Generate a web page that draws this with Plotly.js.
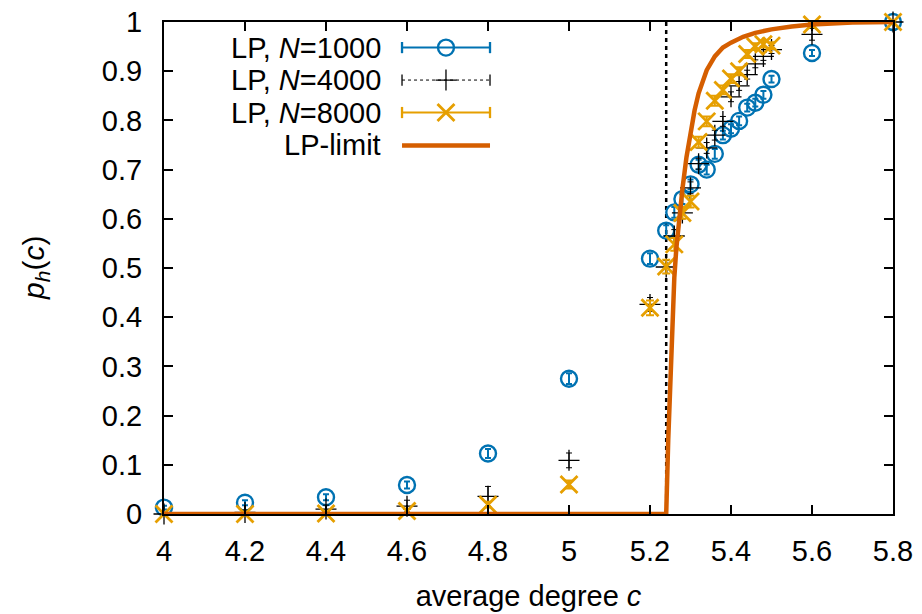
<!DOCTYPE html>
<html>
<head>
<meta charset="utf-8">
<script src="https://cdn.plot.ly/plotly-3.0.1.min.js"></script>
<style>html,body{margin:0;padding:0;background:#fff;}</style>
</head>
<body>
<div id="chart" style="width:922px;height:614px;"></div>
<script>
// ---- data ----
const c1000 = [4.0, 4.2, 4.4, 4.6, 4.8, 5.0, 5.2, 5.24, 5.26, 5.28, 5.30, 5.32, 5.34, 5.36, 5.38, 5.40, 5.42, 5.44, 5.46, 5.48, 5.50, 5.6, 5.8];
const p1000 = [0.013, 0.023, 0.034, 0.059, 0.123, 0.275, 0.519, 0.576, 0.613, 0.640, 0.670, 0.710, 0.700, 0.732, 0.770, 0.783, 0.799, 0.826, 0.836, 0.852, 0.884, 0.937, 1.0];
const e1000 = [0.004, 0.005, 0.006, 0.007, 0.009, 0.011, 0.011, 0.011, 0.011, 0.010, 0.010, 0.010, 0.010, 0.010, 0.009, 0.009, 0.009, 0.008, 0.008, 0.008, 0.007, 0.006, 0.0];

const c4000 = [4.0, 4.2, 4.4, 4.6, 4.8, 5.0, 5.2, 5.24, 5.26, 5.28, 5.30, 5.32, 5.34, 5.36, 5.38, 5.40, 5.42, 5.44, 5.46, 5.48, 5.50, 5.6, 5.8];
const p4000 = [0.0, 0.003, 0.010, 0.016, 0.036, 0.109, 0.426, 0.502, 0.565, 0.612, 0.663, 0.712, 0.744, 0.770, 0.798, 0.848, 0.870, 0.893, 0.915, 0.930, 0.944, 0.975, 1.0];
const e4000 = [0.002, 0.005, 0.008, 0.012, 0.020, 0.015, 0.014, 0.013, 0.013, 0.012, 0.012, 0.011, 0.011, 0.010, 0.010, 0.010, 0.009, 0.009, 0.008, 0.008, 0.008, 0.012, 0.0];

const c8000 = [4.0, 4.2, 4.4, 4.6, 4.8, 5.0, 5.2, 5.24, 5.26, 5.28, 5.30, 5.32, 5.34, 5.36, 5.38, 5.40, 5.42, 5.44, 5.46, 5.48, 5.50, 5.6, 5.8];
const p8000 = [0.0, 0.0, 0.001, 0.006, 0.019, 0.060, 0.419, 0.503, 0.548, 0.612, 0.635, 0.756, 0.798, 0.840, 0.862, 0.885, 0.900, 0.935, 0.950, 0.955, 0.952, 0.995, 1.0];
const e8000 = [0.001, 0.002, 0.003, 0.004, 0.006, 0.008, 0.015, 0.014, 0.013, 0.012, 0.012, 0.011, 0.010, 0.010, 0.009, 0.009, 0.008, 0.008, 0.007, 0.007, 0.007, 0.004, 0.0];

const cLimit = [4.0, 5.24, 5.245, 5.25, 5.255, 5.26, 5.265, 5.27, 5.275, 5.28, 5.29, 5.30, 5.31, 5.32, 5.33, 5.34, 5.36, 5.38, 5.40, 5.43, 5.46, 5.50, 5.55, 5.60, 5.70, 5.80];
const pLimit = [0.0, 0.0, 0.15, 0.28, 0.40, 0.48, 0.54, 0.585, 0.625, 0.66, 0.725, 0.78, 0.82, 0.855, 0.882, 0.902, 0.930, 0.948, 0.958, 0.970, 0.978, 0.985, 0.991, 0.995, 0.999, 1.0];

const threshold = 5.24;

const seriesNames = ["LP, <i>N</i>=1000", "LP, <i>N</i>=4000", "LP, <i>N</i>=8000", "LP-limit"];
const xTitle = "average degree <i>c</i>";
const yTitle = "<i>p</i><sub><i>h</i></sub>(<i>c</i>)";
const xTicks = [4, 4.2, 4.4, 4.6, 4.8, 5, 5.2, 5.4, 5.6, 5.8];
const yTicks = [0, 0.1, 0.2, 0.3, 0.4, 0.5, 0.6, 0.7, 0.8, 0.9, 1];

// ---- styles ----
const BLUE = "#0072B2", BLACK = "#000000", ORANGE = "#E69F00", RED = "#D55E00";
const FONT = "Liberation Sans, Arial, sans-serif";
const FS = 29;

const traces = [];
traces.push({x: [threshold, threshold], y: [0, 1], mode: "lines", showlegend: false, hoverinfo: "skip",
  line: {color: BLACK, width: 2.5, dash: "4px,4px"}});
traces.push({x: c1000, y: p1000, mode: "markers", name: seriesNames[0], showlegend: false, cliponaxis: false,
  marker: {symbol: "circle-open", size: 16, color: BLUE, line: {width: 2.4, color: BLUE}},
  error_y: {type: "data", array: e1000, color: BLUE, thickness: 2, width: 3}});
traces.push({x: c4000, y: p4000, mode: "markers", name: seriesNames[1], showlegend: false, cliponaxis: false,
  marker: {symbol: "cross-thin-open", size: 15, color: BLACK, line: {width: 1.3, color: BLACK}},
  error_y: {type: "data", array: e4000, color: BLACK, thickness: 1, width: 3}});
traces.push({x: c8000, y: p8000, mode: "markers", name: seriesNames[2], showlegend: false, cliponaxis: false,
  marker: {symbol: "x-thin-open", size: 17, color: ORANGE, line: {width: 2.8, color: ORANGE}},
  error_y: {type: "data", array: e8000, color: ORANGE, thickness: 2, width: 4}});
traces.push({x: cLimit, y: pLimit, mode: "lines", name: seriesNames[3], showlegend: false, cliponaxis: false,
  line: {color: RED, width: 4.5, shape: "linear"}});

// ---- custom legend (text left, sample right, as in the original) ----
const legX0 = 0.3265, legX1 = 0.4472, legXm = 0.3868, legTextX = 0.3004;
const legRows = [0.948, 0.882, 0.816, 0.749];
const legStyle = [
  {line: {color: BLUE, width: 2}, sym: "circle-open", size: 16, mlw: 2.4, mc: BLUE, cap: true},
  {line: {color: BLACK, width: 1, dash: "dot"}, sym: "cross-thin-open", size: 15, mlw: 1.3, mc: BLACK, cap: true},
  {line: {color: ORANGE, width: 2}, sym: "x-thin-open", size: 17, mlw: 2.8, mc: ORANGE, cap: true},
  {line: {color: RED, width: 4.5}, sym: null}
];
const annotations = [];
legStyle.forEach((s, i) => {
  const yy = legRows[i];
  traces.push({x: [legX0, legX1], y: [yy, yy], xaxis: "x2", yaxis: "y2", mode: "lines", showlegend: false,
    hoverinfo: "skip", line: s.line});
  if (s.cap) {
    traces.push({x: [legX0, legX1], y: [yy, yy], xaxis: "x2", yaxis: "y2", mode: "markers", showlegend: false,
      hoverinfo: "skip", marker: {symbol: "line-ns-open", size: 8, color: s.mc, line: {width: s.line.width + 0.3, color: s.mc}}});
  }
  if (s.sym) {
    traces.push({x: [legXm], y: [yy], xaxis: "x2", yaxis: "y2", mode: "markers", showlegend: false,
      hoverinfo: "skip", marker: {symbol: s.sym, size: s.size, color: s.mc, line: {width: s.mlw, color: s.mc}}});
  }
  annotations.push({xref: "paper", yref: "paper", x: legTextX, y: yy, xanchor: "right", yanchor: "middle",
    text: seriesNames[i], showarrow: false, font: {family: FONT, size: FS, color: BLACK}});
});
// y-axis title placed as rotated text to match the original position
annotations.push({xref: "paper", yref: "paper", x: -0.177, y: 0.5, xanchor: "center", yanchor: "middle",
  textangle: -90, text: yTitle, showarrow: false, font: {family: FONT, size: 30, color: BLACK}});

const axisCommon = {
  showgrid: false, zeroline: false, showline: true, linecolor: BLACK, linewidth: 2,
  mirror: "ticks", ticks: "inside", ticklen: 9, tickwidth: 2, tickcolor: BLACK,
  tickfont: {family: FONT, size: FS, color: BLACK}
};

const layout = {
  width: 922, height: 614,
  margin: {l: 164, r: 29, t: 22, b: 100},
  paper_bgcolor: "#ffffff", plot_bgcolor: "#ffffff",
  font: {family: FONT, size: FS, color: BLACK},
  showlegend: false,
  xaxis: Object.assign({}, axisCommon, {
    range: [4, 5.8], tickmode: "array", tickvals: xTicks, ticktext: xTicks.map(String),
    ticklabelstandoff: 10,
    title: {text: xTitle, font: {family: FONT, size: FS, color: BLACK}, standoff: 20}
  }),
  yaxis: Object.assign({}, axisCommon, {
    range: [0, 1], tickmode: "array", tickvals: yTicks, ticktext: yTicks.map(String),
    ticklabelstandoff: 14
  }),
  xaxis2: {overlaying: "x", range: [0, 1], visible: false, fixedrange: true},
  yaxis2: {overlaying: "y", range: [0, 1], visible: false, fixedrange: true},
  annotations: annotations
};

Plotly.newPlot("chart", traces, layout, {displayModeBar: false, staticPlot: true});
</script>
</body>
</html>
